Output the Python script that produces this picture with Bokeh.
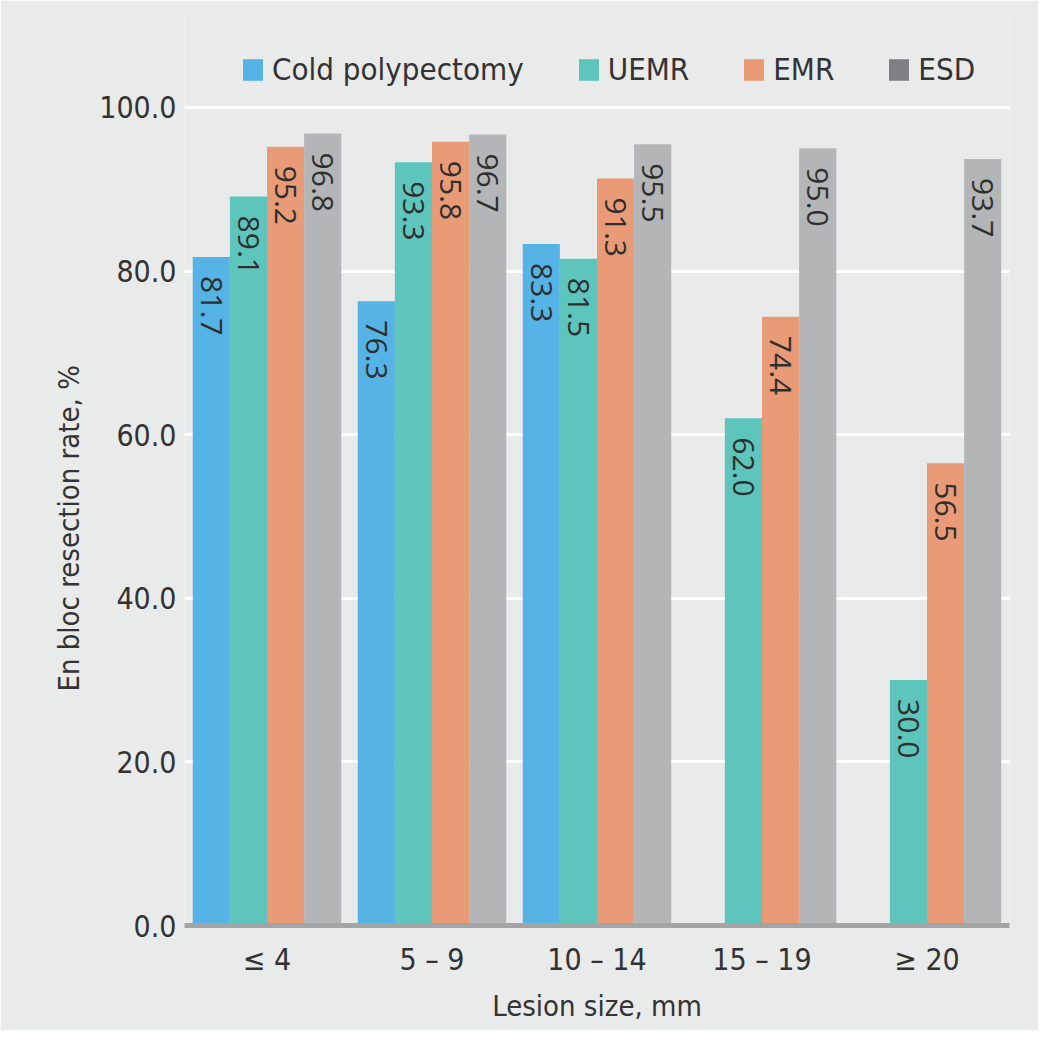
import math
from bokeh.plotting import figure
from bokeh.models import (ColumnDataSource, FactorRange, Range1d, FixedTicker,
                          PrintfTickFormatter, Legend, LegendItem, Title)
from bokeh.transform import dodge
from bokeh.core.properties import value
from bokeh.embed import file_html
from bokeh.resources import INLINE

# ---- data ----
categories = ["≤ 4", "5 – 9", "10 – 14", "15 – 19", "≥ 20"]
series_names = ["Cold polypectomy", "UEMR", "EMR", "ESD"]
cold_polypectomy = [81.7, 76.3, 83.3, None, None]
uemr = [89.1, 93.3, 81.5, 62.0, 30.0]
emr = [95.2, 95.8, 91.3, 74.4, 56.5]
esd = [96.8, 96.7, 95.5, 95.0, 93.7]
y_ticks = [0, 20, 40, 60, 80, 100]

colors = ["#55b3e6", "#5dc5bc", "#e99b77", "#b4b5b7"]
legend_colors = ["#55b3e6", "#5dc5bc", "#e99b77", "#7f8083"]
offsets = [-0.3375, -0.1125, 0.1125, 0.3375]
bar_w = 0.225

TICK_FONT = "'DejaVu Sans Condensed', 'Liberation Sans Narrow', sans-serif"
TXT = "#333333"

p = figure(x_range=FactorRange(*categories, range_padding=0),
           y_range=Range1d(0, 111.6),
           width=1038, height=1030, output_backend="svg", toolbar_location=None,
           min_border_left=184, min_border_right=29, min_border_top=12,
           min_border_bottom=105)

p.background_fill_color = "#e9eaea"
p.border_fill_color = "#e9eaea"
p.outline_line_color = None

all_series = [cold_polypectomy, uemr, emr, esd]
legend_items = []
for name, vals, col, lcol, off in zip(series_names, all_series, colors, legend_colors, offsets):
    xs = [c for c, v in zip(categories, vals) if v is not None]
    ys = [v for v in vals if v is not None]
    src = ColumnDataSource(dict(x=xs, y=ys, lab=["%.1f" % v for v in ys]))
    bars = p.vbar(x=dodge("x", off, range=p.x_range), top="y", width=bar_w, source=src,
                  fill_color=col, line_color=None)
    p.text(x=dodge("x", off, range=p.x_range), y="y", text="lab", source=src,
           angle=-math.pi / 2, text_align="left", text_baseline="middle",
           y_offset=19, text_font=value("Open Sans"), text_font_size="30px",
           text_color="#2f2f2f")
    if lcol != col:
        # zero-width twin only used for the (darker) legend swatch
        bars = p.vbar(x=dodge("x", off, range=p.x_range), top="y", width=0, source=src,
                      fill_color=lcol, line_color=None)
    legend_items.append(LegendItem(label=name, renderers=[bars]))

legend = Legend(items=legend_items, orientation="horizontal", location=(56, 838),
                glyph_width=25, glyph_height=27, label_standoff=7, spacing=52,
                padding=0, margin=0, border_line_color=None, background_fill_alpha=0,
                label_text_font=TICK_FONT, label_text_font_size="31px",
                label_text_color=TXT)
p.add_layout(legend, "center")

# grid
p.xgrid.grid_line_color = None
p.ygrid.grid_line_color = "white"
p.ygrid.grid_line_width = 3
p.ygrid.ticker = FixedTicker(ticks=y_ticks)

# y axis
p.yaxis.ticker = FixedTicker(ticks=y_ticks)
p.yaxis.formatter = PrintfTickFormatter(format="%.1f")
p.yaxis.axis_line_color = None
p.yaxis.major_tick_line_color = None
p.yaxis.minor_tick_line_color = None
p.yaxis.major_tick_out = 0
p.yaxis.major_tick_in = 0
p.yaxis.major_label_standoff = 8
p.yaxis.major_label_text_font = TICK_FONT
p.yaxis.major_label_text_font_size = "30px"
p.yaxis.major_label_text_color = TXT

ytitle = Title(text="En bloc resection rate, %", align="left", offset=234,
               standoff=22, text_font=TICK_FONT, text_font_size="29px",
               text_font_style="normal", text_color=TXT)
p.add_layout(ytitle, "left")

# x axis
p.xaxis.axis_line_color = "#a3a4a6"
p.xaxis.axis_line_width = 5
p.xaxis.major_tick_line_color = None
p.xaxis.minor_tick_line_color = None
p.xaxis.major_tick_out = 0
p.xaxis.major_tick_in = 0
p.xaxis.major_label_standoff = 16
p.xaxis.major_label_text_font = TICK_FONT
p.xaxis.major_label_text_font_size = "30px"
p.xaxis.major_label_text_color = TXT
p.xaxis.axis_label = "Lesion size, mm"
p.xaxis.axis_label_text_font = TICK_FONT
p.xaxis.axis_label_text_font_size = "29px"
p.xaxis.axis_label_text_font_style = "normal"
p.xaxis.axis_label_text_color = TXT
p.xaxis.axis_label_standoff = 9

open("out.html", "w").write(file_html(p, INLINE))
